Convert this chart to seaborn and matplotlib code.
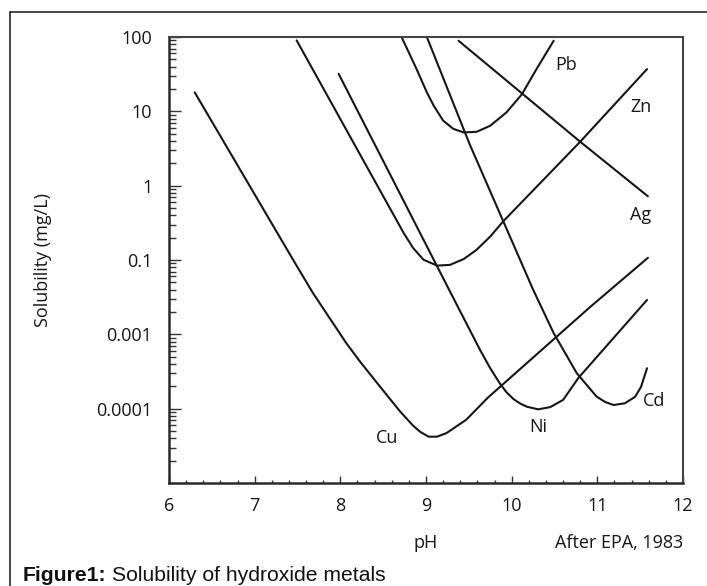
import matplotlib
matplotlib.use("Agg")
import matplotlib.pyplot as plt
from matplotlib.lines import Line2D
from matplotlib.ticker import FixedLocator, LogLocator, MultipleLocator, NullFormatter
import pandas as pd
import seaborn as sns

cu_ph = [6.30, 7.45, 7.68, 8.07, 8.23, 8.46, 8.70, 8.85, 8.93, 9.03, 9.13, 9.24, 9.47, 9.72,
         10.91, 11.59]
cu_sol = [18, 0.10, 0.036, 0.0076, 0.0043, 0.0020, 0.00091, 0.00059, 0.00049, 0.00042,
          0.00042, 0.00047, 0.00071, 0.0014, 0.023, 0.107]

zn_ph = [7.49, 8.74, 8.85, 8.97, 9.13, 9.28, 9.44, 9.59, 9.75, 9.90, 10.80, 11.58]
zn_sol = [90, 0.23, 0.145, 0.101, 0.084, 0.086, 0.103, 0.137, 0.207, 0.33, 3.9, 37]

pb_ph = [8.72, 8.89, 9.01, 9.09, 9.20, 9.32, 9.44, 9.59, 9.75, 9.94, 10.12, 10.29, 10.49]
pb_sol = [97, 37, 18, 11.9, 7.5, 5.8, 5.2, 5.3, 6.4, 9.7, 17, 37, 89]

ni_ph = [7.98, 9.13, 9.38, 9.63, 9.75, 9.86, 9.94, 10.02, 10.10, 10.18, 10.31, 10.45, 10.60,
         10.78, 11.58]
ni_sol = [32, 0.082, 0.0225, 0.0062, 0.0035, 0.0022, 0.00166, 0.00135, 0.00117, 0.00106,
          0.00098, 0.00105, 0.00131, 0.0026, 0.029]

cd_ph = [9.01, 9.51, 10.25, 10.49, 10.76, 10.99, 11.09, 11.19, 11.32, 11.44, 11.51, 11.58]
cd_sol = [100, 3.6, 0.040, 0.0104, 0.0030, 0.00146, 0.00123, 0.00112, 0.00118, 0.00144,
          0.00196, 0.0035]

ag_ph = [9.38, 10.80, 11.59]
ag_sol = [89, 3.9, 0.72]

metals = ["Cu", "Zn", "Pb", "Ni", "Cd", "Ag"]
curves = [(cu_ph, cu_sol), (zn_ph, zn_sol), (pb_ph, pb_sol),
          (ni_ph, ni_sol), (cd_ph, cd_sol), (ag_ph, ag_sol)]

# where each curve name sits
label_names = ["Pb", "Zn", "Ag", "Cd", "Ni", "Cu"]
label_x = [10.64, 11.51, 11.51, 11.66, 10.31, 8.55]
label_y = [42, 11.6, 0.405, 0.00125, 0.00057, 0.0004]

y_ticks = [100, 10, 1, 0.1, 0.01, 0.001]
y_tick_labels = ["100", "10", "1", "0.1", "0.001", "0.0001"]
x_ticks = [6, 7, 8, 9, 10, 11, 12]

rows = []
for name, (ph, sol) in zip(metals, curves):
    for p, s in zip(ph, sol):
        rows.append({"metal": name, "pH": p, "solubility": s})
df = pd.DataFrame(rows)

sns.set_style("ticks")
plt.rcParams["font.family"] = ["Open Sans", "DejaVu Sans"]
ink = "#161616"

fig = plt.figure(figsize=(7.07, 5.86), dpi=100)
ax = fig.add_axes([169 / 707, 1 - 483 / 586, 514 / 707, 446 / 586])

sns.lineplot(data=df, x="pH", y="solubility", units="metal", estimator=None,
             sort=False, color=ink, linewidth=1.5, ax=ax, legend=False)
for line in ax.get_lines():
    line.set_solid_joinstyle("round")

ax.set_yscale("log")
ax.set_xlim(6, 12)
ax.set_ylim(1e-4, 1e2)

ax.yaxis.set_major_locator(FixedLocator(y_ticks))
ax.set_yticklabels(y_tick_labels)
ax.yaxis.set_minor_locator(LogLocator(base=10, subs=range(2, 10), numticks=20))
ax.yaxis.set_minor_formatter(NullFormatter())
ax.set_xticks(x_ticks)
ax.xaxis.set_minor_locator(MultipleLocator(0.2))

ax.tick_params(axis="both", which="both", direction="in", colors="#333333",
               labelcolor=ink, labelsize=13, width=1,
               bottom=True, left=True, top=False, right=False)
ax.tick_params(axis="y", which="major", length=8.5, pad=12)
ax.tick_params(axis="y", which="minor", length=5)
ax.tick_params(axis="x", which="major", length=4.7, pad=10)
ax.tick_params(axis="x", which="minor", length=2.2)

for side in ["left", "bottom"]:
    ax.spines[side].set_linewidth(1.8)
    ax.spines[side].set_color("#2a2a2a")
for side in ["top", "right"]:
    ax.spines[side].set_visible(True)
    ax.spines[side].set_linewidth(1.5)
    ax.spines[side].set_color("#444444")

ax.set_xlabel("pH", fontsize=13, color=ink)
ax.xaxis.set_label_coords(0.5, -(548.3 - 483) / 446)
ax.xaxis.label.set_va("baseline")
ax.set_ylabel("Solubility (mg/L)", fontsize=13, color=ink)
ax.yaxis.set_label_coords(-(169 - 52) / 514, 0.5)

for name, lx, ly in zip(label_names, label_x, label_y):
    ax.text(lx, ly, name, fontsize=13, color=ink, ha="center", va="center")

fig.text(683 / 707, 1 - 548.3 / 586, "After EPA, 1983", fontsize=13, color=ink,
         ha="right", va="baseline")

# outer frame of the figure panel
fig.add_artist(Line2D([10 / 707, 10 / 707], [0, 1 - 12 / 586],
                      transform=fig.transFigure, color=ink, linewidth=1.1))
fig.add_artist(Line2D([10 / 707, 1], [1 - 12 / 586, 1 - 12 / 586],
                      transform=fig.transFigure, color=ink, linewidth=1.1))

cap_y = 1 - 581 / 586
t1 = fig.text(22.7 / 707, cap_y, "Figure1:", fontsize=15.2, fontweight="bold",
              family=["Liberation Sans", "DejaVu Sans"], color="#111111", va="baseline")
fig.canvas.draw()
bb = t1.get_window_extent()
fig.text((bb.x1 + 5.5) / fig.bbox.width, cap_y, "Solubility of hydroxide metals",
         fontsize=15.2, family=["Liberation Sans", "DejaVu Sans"], color="#111111",
         va="baseline")

fig.savefig("out.png", dpi=100)
